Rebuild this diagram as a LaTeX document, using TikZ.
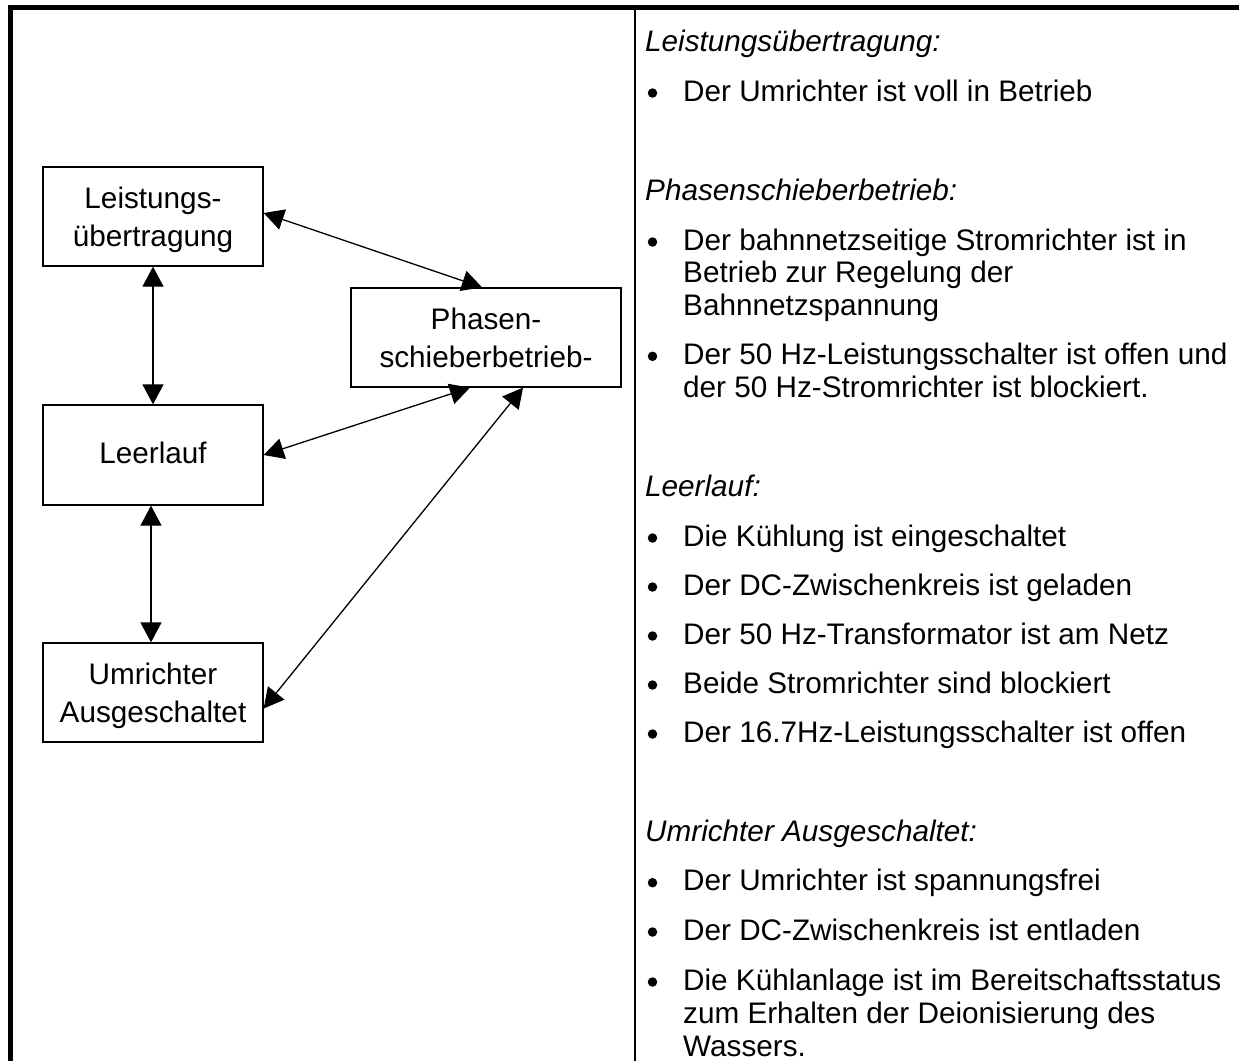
\documentclass[tikz,border=0pt]{standalone}
\usepackage{fontspec}
\setmainfont{Liberation Sans}
\usetikzlibrary{arrows.meta}
\newcommand\topst{\rule{0pt}{28.5pt}}
\newcommand\botst{\rule[-6.5pt]{0pt}{6.5pt}}
\begin{document}
\begin{tikzpicture}[x=1pt,y=-1pt,
  box/.style={draw, line width=1.3pt, inner sep=0pt, align=center, font=\fontsize{29.7}{38}\selectfont},
  conn/.style={line width=1.3pt, {Triangle[length=20pt,width=21pt]}-{Triangle[length=20pt,width=21pt]}},
  txt/.style={anchor=base west, inner sep=0pt, font=\fontsize{29.7}{33}\selectfont},
  head/.style={anchor=base west, inner sep=0pt, font=\fontsize{29.7}{33}\selectfont\itshape},
  bul/.style={circle, fill, inner sep=0pt, minimum size=9.5pt}]
\useasboundingbox (0,0) rectangle (1239,1061);
\fill[white] (0,0) rectangle (1239,1061);
% frame
\draw[line width=5pt] (7.5,7.5) -- (1239,7.5);
\draw[line width=5pt] (10,5) -- (10,1061);
\draw[line width=1.3pt] (635,10) -- (635,1061);
% state boxes
\node[box, minimum width=220pt, minimum height=99pt] (lu) at (153,216.5) {\topst Leistungs-\\übertragung\botst};
\node[box, minimum width=270pt, minimum height=99pt] (ph) at (486,337.5) {\topst Phasen-\\schieberbetrieb-\botst};
\node[box, minimum width=220pt, minimum height=100pt] (ll) at (153,455) {\rule{0pt}{23pt}Leerlauf\botst};
\node[box, minimum width=220pt, minimum height=99pt] (ua) at (153,692.5) {\topst Umrichter\\Ausgeschaltet\botst};
% connectors
\draw[conn] ([yshift=3.5pt]lu.east) -- ([xshift=-4pt]ph.north);
\draw[conn] (lu.south) -- (ll.north);
\draw[conn] ([xshift=-2pt]ll.south) -- ([xshift=-2pt]ua.north);
\draw[conn] (ll.east) -- ([xshift=-16pt]ph.south);
\draw[conn] ([yshift=-16pt]ua.east) -- ([xshift=37pt]ph.south);
% right column
\node[head] (h1) at (645,51.7) {Leistungsübertragung:};
\node[bul] (b1) at (652.5,93) {};
\node[txt] (t1) at (683,101) {Der Umrichter ist voll in Betrieb};
\node[head] (h2) at (645,200) {Phasenschieberbetrieb:};
\node[bul] (b2) at (652.5,242) {};
\node[txt] (t2a) at (683,250) {Der bahnnetzseitige Stromrichter ist in};
\node[txt] (t2b) at (683,282.7) {Betrieb zur Regelung der};
\node[txt] (t2c) at (683,315.3) {Bahnnetzspannung};
\node[bul] (b3) at (652.5,356.3) {};
\node[txt] (t3a) at (683,364.3) {Der 50 Hz-Leistungsschalter ist offen und};
\node[txt] (t3b) at (683,397) {der 50 Hz-Stromrichter ist blockiert.};
\node[head] (h3) at (645,496.7) {Leerlauf:};
\node[bul] (b4) at (652.5,538) {};
\node[txt] (t4) at (683,546) {Die Kühlung ist eingeschaltet};
\node[bul] (b5) at (652.5,587) {};
\node[txt] (t5) at (683,595) {Der DC-Zwischenkreis ist geladen};
\node[bul] (b6) at (652.5,636) {};
\node[txt] (t6) at (683,644) {Der 50 Hz-Transformator ist am Netz};
\node[bul] (b7) at (652.5,685) {};
\node[txt] (t7) at (683,693) {Beide Stromrichter sind blockiert};
\node[bul] (b8) at (652.5,734) {};
\node[txt] (t8) at (683,742) {Der 16.7Hz-Leistungsschalter ist offen};
\node[head] (h4) at (645,841.7) {Umrichter Ausgeschaltet:};
\node[bul] (b9) at (652.5,882.7) {};
\node[txt] (t9) at (683,890.7) {Der Umrichter ist spannungsfrei};
\node[bul] (b10) at (652.5,932) {};
\node[txt] (t10) at (683,940) {Der DC-Zwischenkreis ist entladen};
\node[bul] (b11) at (652.5,982) {};
\node[txt] (t11a) at (683,990) {Die Kühlanlage ist im Bereitschaftsstatus};
\node[txt] (t11b) at (683,1023) {zum Erhalten der Deionisierung des};
\node[txt] (t11c) at (683,1056) {Wassers.};
\end{tikzpicture}
\end{document}
